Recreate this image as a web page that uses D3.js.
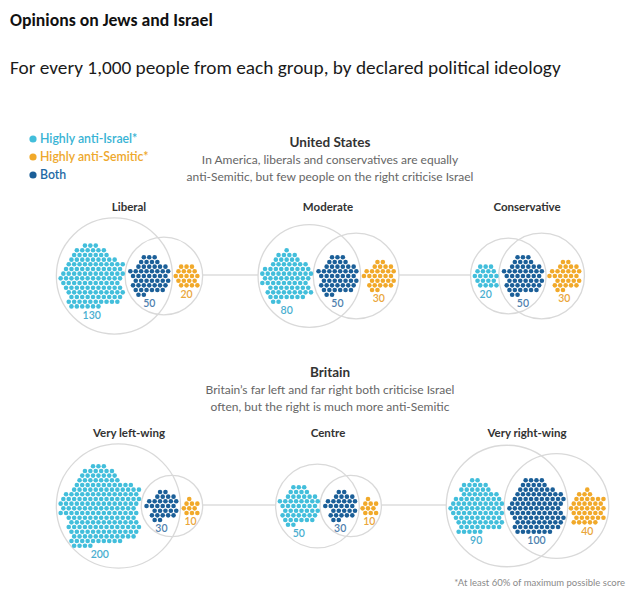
<!DOCTYPE html>
<html>
<head>
<meta charset="utf-8">
<script src="https://cdn.jsdelivr.net/npm/d3@7/dist/d3.min.js"></script>
<style>
  html, body { margin: 0; padding: 0; background: #fff; }
  svg { display: block; }
  text { font-family: Lato, "Open Sans", sans-serif; }
</style>
</head>
<body>
<svg id="chart" width="640" height="599"></svg>
<script>
// ---- data (per 1,000 people) ----
const usGroups = ["Liberal", "Moderate", "Conservative"];
const usAntiIsrael = [130, 80, 20];
const usBoth = [50, 50, 50];
const usAntiSemitic = [20, 30, 30];

const ukGroups = ["Very left-wing", "Centre", "Very right-wing"];
const ukAntiIsrael = [200, 50, 90];
const ukBoth = [30, 30, 100];
const ukAntiSemitic = [10, 10, 40];

const legendLabels = ["Highly anti-Israel*", "Highly anti-Semitic*", "Both"];
const seriesKeys = ["israel", "semitic", "both"];

const title = "Opinions on Jews and Israel";
const subtitle = "For every 1,000 people from each group, by declared political ideology";
const usTitle = "United States";
const usSub = ["In America, liberals and conservatives are equally", "anti-Semitic, but few people on the right criticise Israel"];
const ukTitle = "Britain";
const ukSub = ["Britain\u2019s far left and far right both criticise Israel", "often, but the right is much more anti-Semitic"];
const footnote = "*At least 60% of maximum possible score";

// ---- styles ----
const dotColor = d3.scaleOrdinal().domain(seriesKeys).range(["#42bedb", "#f1a92a", "#1b5f98"]);
const labelColor = d3.scaleOrdinal().domain(seriesKeys).range(["#4aaed0", "#eaa63a", "#4f7fae"]);
const legendColor = d3.scaleOrdinal().domain(seriesKeys).range(["#37b3d4", "#eea82c", "#1f6aa5"]);

const svg = d3.select("#chart");

// titles
svg.append("text").attr("x", 10).attr("y", 26).attr("font-size", 17.7).attr("font-weight", "bold")
  .attr("fill", "#111").style("font-family", "Carlito, Lato, sans-serif").text(title);
svg.append("text").attr("x", 10).attr("y", 74).attr("font-size", 19.3)
  .attr("fill", "#1a1a1a").style("font-family", "Carlito, Lato, sans-serif").text(subtitle);

// legend
const legend = svg.append("g");
legendLabels.forEach((lab, i) => {
  const y = 139 + i * 18;
  legend.append("circle").attr("cx", 33).attr("cy", y).attr("r", 3.6).attr("fill", dotColor(seriesKeys[i]));
  legend.append("text").attr("x", 40).attr("y", y + 4).attr("font-size", 12.3).attr("font-weight", 600)
    .attr("fill", legendColor(seriesKeys[i])).text(lab);
});

// footnote
svg.append("text").attr("x", 625).attr("y", 586).attr("text-anchor", "end").attr("font-size", 9.5)
  .attr("fill", "#8a8a8a").text(footnote);

// ---- dot packing (hex lattice, slightly irregular outline) ----
const S = 5.4, DR = 2.3;
const hexGrid = [];
for (let j = -20; j <= 20; j++) {
  for (let i = -20; i <= 20; i++) {
    const x = S * (i + j / 2), y = S * j * Math.sqrt(3) / 2;
    const a = Math.atan2(y, x), d = Math.hypot(x, y);
    const k = d * (1 + 0.08 * Math.sin(5 * a + 0.7) + 0.06 * Math.cos(3 * a + 2) + 0.04 * Math.sin(7 * a + 1.3));
    hexGrid.push({ x, y, k, a });
  }
}
hexGrid.sort((p, q) => (p.k - q.k) || (p.a - q.a));
function pack(n) {
  const pts = hexGrid.slice(0, n);
  const x0 = d3.min(pts, p => p.x), x1 = d3.max(pts, p => p.x);
  const y0 = d3.min(pts, p => p.y), y1 = d3.max(pts, p => p.y);
  const mx = (x0 + x1) / 2, my = (y0 + y1) / 2;
  const shifted = pts.map(p => ({ x: p.x - mx, y: p.y - my }));
  return { pts: shifted, half: (x1 - x0) / 2 + DR, vhalf: (y1 - y0) / 2 + DR };
}

function drawSection(groups, israel, both, semitic, opt) {
  const col = d3.scalePoint().domain(groups).range([129, 527]);
  const g = svg.append("g");
  // header
  g.append("text").attr("x", 330).attr("y", opt.headY).attr("text-anchor", "middle")
    .attr("font-size", 13.5).attr("font-weight", "bold").attr("fill", "#333").text(opt.head);
  opt.sub.forEach((s, i) => {
    g.append("text").attr("x", 330).attr("y", opt.headY + 17 + i * 17).attr("text-anchor", "middle")
      .attr("font-size", 12).attr("fill", "#666").text(s);
  });
  const lineG = g.append("g");
  const circG = g.append("g");
  const dotG = g.append("g");
  const bounds = [];
  groups.forEach((name, k) => {
    const cx = col(name), cy = opt.cy;
    g.append("text").attr("x", cx).attr("y", opt.groupY).attr("text-anchor", "middle")
      .attr("font-size", 11.5).attr("font-weight", "bold").attr("fill", "#333").text(name);
    const vals = [
      { key: "israel", v: israel[k] },
      { key: "both", v: both[k] },
      { key: "semitic", v: semitic[k] }
    ];
    vals.forEach(d => Object.assign(d, pack(d.v)));
    const gap = 3;
    const total = d3.sum(vals, d => 2 * d.half) + gap * 2;
    let x = cx - total / 2;
    vals.forEach(d => { d.cx = x + d.half; x += 2 * d.half + gap; });
    // circles
    const a0 = vals[0].cx - vals[0].half, a1 = vals[1].cx + vals[1].half;
    const b0 = vals[1].cx - vals[1].half, b1 = vals[2].cx + vals[2].half;
    const cA = { x: (a0 + a1) / 2, r: (a1 - a0) / 2 + 2 };
    const cB = { x: (b0 + b1) / 2, r: (b1 - b0) / 2 + 3 };
    [cA, cB].forEach(c => circG.append("circle").attr("cx", c.x).attr("cy", cy).attr("r", c.r)
      .attr("fill", "none").attr("stroke", "#d9d9d9").attr("stroke-width", 1.3));
    bounds.push({ left: cA.x - cA.r, right: cB.x + cB.r });
    // dots
    vals.forEach(d => {
      dotG.append("g").selectAll("circle").data(d.pts).join("circle")
        .attr("cx", p => d.cx + p.x).attr("cy", p => cy + p.y).attr("r", DR)
        .attr("fill", dotColor(d.key));
      dotG.append("text").attr("x", d.cx).attr("y", cy + d.vhalf + 10)
        .attr("text-anchor", "middle").attr("font-size", 10.5).attr("font-weight", 600)
        .attr("fill", labelColor(d.key)).text(d.v);
    });
  });
  for (let k = 0; k < bounds.length - 1; k++) {
    lineG.append("line").attr("x1", bounds[k].right).attr("x2", bounds[k + 1].left)
      .attr("y1", opt.cy - 1).attr("y2", opt.cy - 1).attr("stroke", "#dcdcdc").attr("stroke-width", 1.3);
  }
}

drawSection(usGroups, usAntiIsrael, usBoth, usAntiSemitic,
  { head: usTitle, sub: usSub, headY: 147, groupY: 211, cy: 276 });
drawSection(ukGroups, ukAntiIsrael, ukBoth, ukAntiSemitic,
  { head: ukTitle, sub: ukSub, headY: 377, groupY: 437, cy: 506 });
</script>
</body>
</html>
